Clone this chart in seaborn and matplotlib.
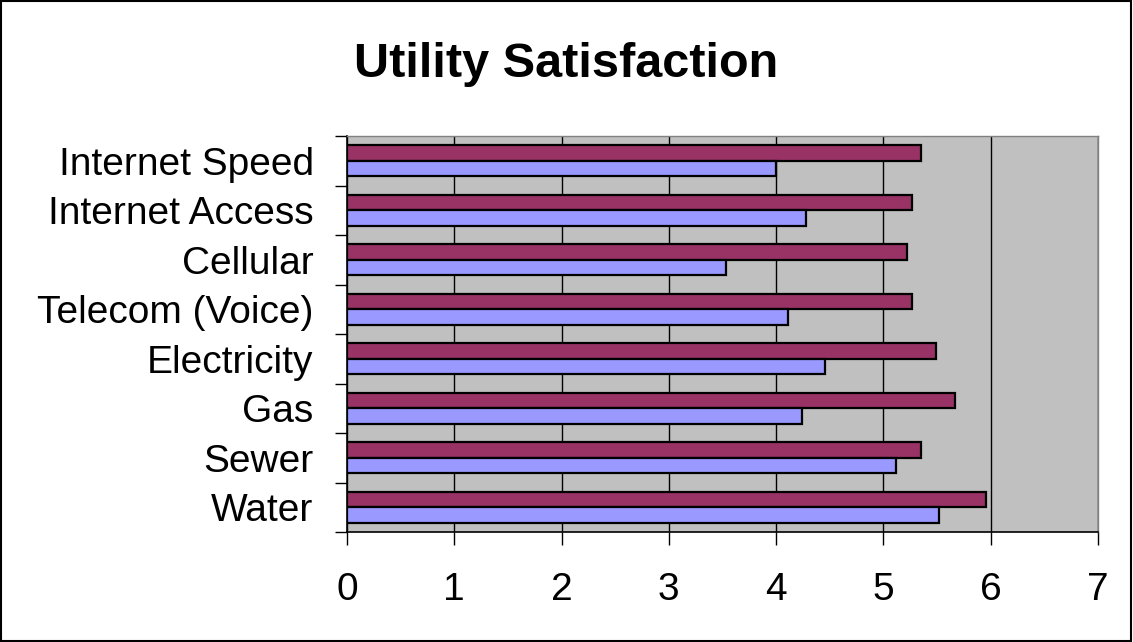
import numpy as np
import pandas as pd
import matplotlib
matplotlib.use("Agg")
import matplotlib.pyplot as plt
import seaborn as sns
from matplotlib.patches import Rectangle

# data
categories = ["Internet Speed", "Internet Access", "Cellular", "Telecom (Voice)",
              "Electricity", "Gas", "Sewer", "Water"]
series_a = [5.35, 5.27, 5.22, 5.27, 5.49, 5.67, 5.35, 5.96]   # maroon bars
series_b = [4.00, 4.28, 3.53, 4.11, 4.46, 4.24, 5.12, 5.52]   # blue bars
series_names = ["Series 1", "Series 2"]
x_ticks = [0, 1, 2, 3, 4, 5, 6, 7]

df = pd.DataFrame({
    "category": categories * 2,
    "value": series_a + series_b,
    "series": [series_names[0]] * len(categories) + [series_names[1]] * len(categories),
})

sns.set_style("white")
plt.rcParams["font.family"] = ["Liberation Sans", "DejaVu Sans"]
plt.rcParams["text.color"] = "black"
plt.rcParams["xtick.color"] = "black"
plt.rcParams["ytick.color"] = "black"
plt.rcParams["axes.labelcolor"] = "black"

fig = plt.figure(figsize=(11.33, 6.42), dpi=100)
ax = fig.add_axes([347 / 1133, 110 / 642, (1098 - 347) / 1133, (532 - 136) / 642])
ax.set_facecolor("#C0C0C0")

sns.barplot(data=df, x="value", y="category", hue="series", order=categories,
            hue_order=series_names, palette=["#993366", "#9999FF"], saturation=1,
            orient="h", width=0.62, gap=0, edgecolor="black", linewidth=1.6,
            legend=False, ax=ax)

ax.set_xlim(0, 7)
ax.set_ylim(len(categories) - 0.5, -0.5)
ax.set_xticks(x_ticks)
ax.set_xticklabels([str(t) for t in x_ticks], fontsize=28)
ax.set_yticklabels(categories, fontsize=28)
ax.set_xlabel("")
ax.set_ylabel("")

# vertical grid lines behind bars
ax.set_axisbelow(True)
ax.xaxis.grid(True, color="black", linewidth=1)
ax.yaxis.grid(False)

# excel style ticks at category boundaries
ax.set_yticks(np.arange(-0.5, len(categories), 1), minor=True)
ax.tick_params(axis="y", which="major", length=0, pad=24)
ax.tick_params(axis="y", which="minor", length=9, width=1, color="black", direction="out", left=True)
ax.tick_params(axis="x", which="major", length=9, width=1, color="black", direction="out", bottom=True, pad=20)

for side in ["left", "bottom"]:
    ax.spines[side].set_color("black")
    ax.spines[side].set_linewidth(1.2)
for side in ["top", "right"]:
    ax.spines[side].set_color("#808080")
    ax.spines[side].set_linewidth(1)

fig.text(0.5, 1 - 77 / 642, "Utility Satisfaction", ha="center", va="baseline",
         fontsize=35, fontweight="bold", color="black")

# outer chart border
fig.patches.append(Rectangle((0.001, 0.002), 0.997, 0.996, transform=fig.transFigure,
                             fill=False, edgecolor="black", linewidth=1.5))

fig.savefig("out.png", dpi=100)
plt.close(fig)
